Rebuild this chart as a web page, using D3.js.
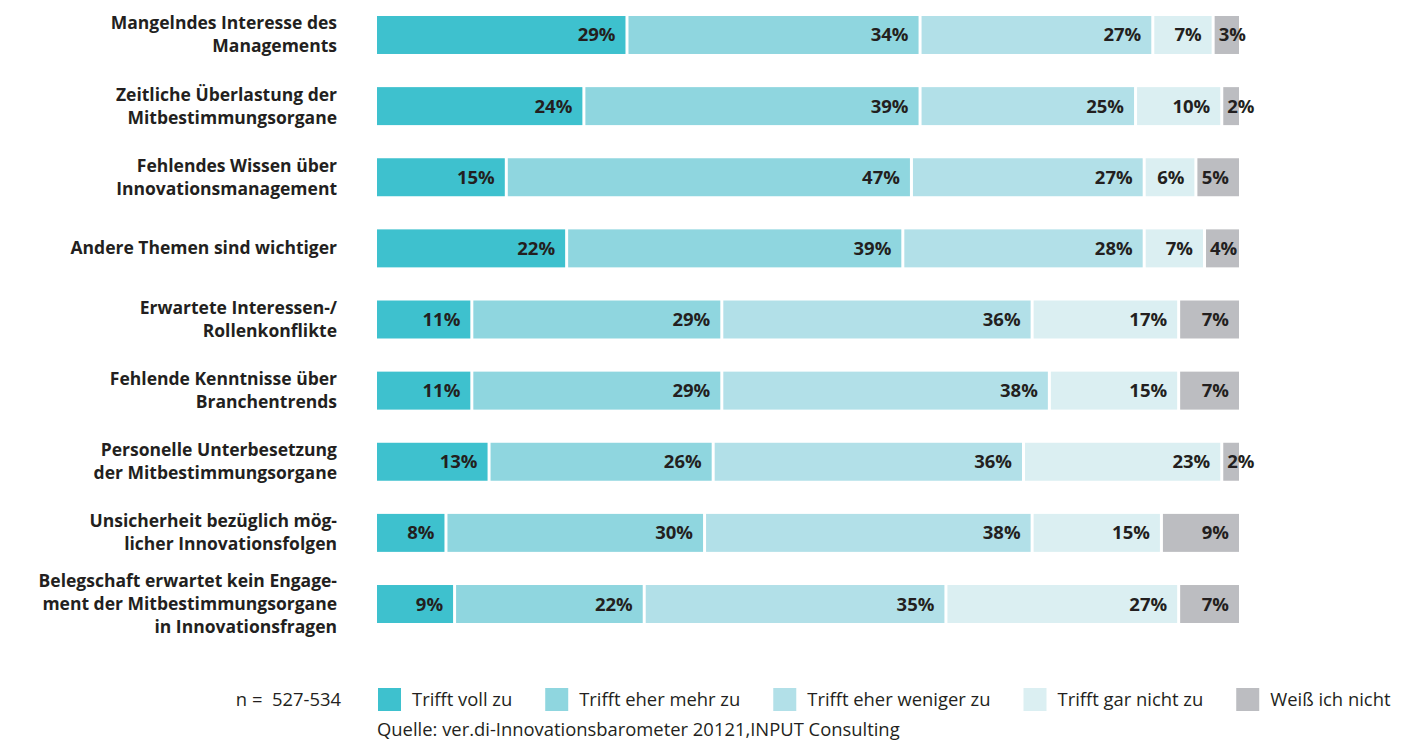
<!DOCTYPE html>
<html>
<head>
<meta charset="utf-8">
<script src="https://cdn.jsdelivr.net/npm/d3@7"></script>
<style>
  html, body { margin: 0; padding: 0; background: #fff; overflow: hidden; }
  svg { display: block; }
  text { font-family: "Open Sans", "Noto Sans", sans-serif; fill: #231f20; }
</style>
</head>
<body>
<svg id="chart" width="1427" height="741"></svg>
<script>
// Category labels (line breaks as printed)
const categories = [
  ["Mangelndes Interesse des", "Managements"],
  ["Zeitliche Überlastung der", "Mitbestimmungsorgane"],
  ["Fehlendes Wissen über", "Innovationsmanagement"],
  ["Andere Themen sind wichtiger"],
  ["Erwartete Interessen-/", "Rollenkonflikte"],
  ["Fehlende Kenntnisse über", "Branchentrends"],
  ["Personelle Unterbesetzung", "der Mitbestimmungsorgane"],
  ["Unsicherheit bezüglich mög-", "licher Innovationsfolgen"],
  ["Belegschaft erwartet kein Engage-", "ment der Mitbestimmungsorgane", "in Innovationsfragen"]
];

const seriesNames = ["Trifft voll zu", "Trifft eher mehr zu", "Trifft eher weniger zu", "Trifft gar nicht zu", "Weiß ich nicht"];
const seriesColors = ["#3ec1ce", "#8fd6df", "#b2e0e8", "#dbeff2", "#bcbdc1"];

// Percentages per series, one value per category
const trifftVollZu        = [29, 24, 15, 22, 11, 11, 13,  8,  9];
const trifftEherMehrZu    = [34, 39, 47, 39, 29, 29, 26, 30, 22];
const trifftEherWenigerZu = [27, 25, 27, 28, 36, 38, 36, 38, 35];
const trifftGarNichtZu    = [ 7, 10,  6,  7, 17, 15, 23, 15, 27];
const weissIchNicht       = [ 3,  2,  5,  4,  7,  7,  2,  9,  7];

const sampleNote = "n =  527-534";
const sourceNote = "Quelle: ver.di-Innovationsbarometer 20121,INPUT Consulting";

const seriesValues = [trifftVollZu, trifftEherMehrZu, trifftEherWenigerZu, trifftGarNichtZu, weissIchNicht];

const svg = d3.select("#chart");

const rows = categories.map((c, i) => {
  const row = { key: "c" + i, label: c };
  seriesValues.forEach((vals, s) => { row["s" + s] = vals[i]; });
  return row;
});
const keys = seriesValues.map((_, s) => "s" + s);
const stacked = d3.stack().keys(keys)(rows);

const x = d3.scaleLinear().domain([0, 100]).range([377, 1239]);
const y = d3.scaleBand()
  .domain(rows.map(r => r.key))
  .range([16, 623])
  .paddingInner(0.466)
  .paddingOuter(0);

const gap = 1.5;
const lastIdx = keys.length - 1;

// Bar segments
const layers = svg.append("g").selectAll("g")
  .data(stacked)
  .join("g")
  .attr("fill", (d, i) => seriesColors[i]);

layers.selectAll("rect")
  .data((d, i) => d.map(p => ({ p, i })))
  .join("rect")
  .attr("x", d => x(d.p[0]) + (d.i > 0 ? gap : 0))
  .attr("y", d => y(d.p.data.key))
  .attr("width", d => x(d.p[1]) - x(d.p[0]) - (d.i > 0 ? gap : 0) - (d.i < lastIdx ? gap : 0))
  .attr("height", y.bandwidth());

// Value labels inside the segments
const valueFont = 18.5;
layers.selectAll("text")
  .data((d, i) => d.map(p => ({ p, i })))
  .join("text")
  .attr("font-size", valueFont)
  .attr("font-weight", 700)
  .attr("y", d => y(d.p.data.key) + y.bandwidth() / 2 + 6.5)
  .text(d => (d.p[1] - d.p[0]) + "%")
  .each(function (d) {
    const t = d3.select(this);
    const w = this.getComputedTextLength();
    const x0 = x(d.p[0]) + (d.i > 0 ? gap : 0);
    const x1 = x(d.p[1]) - (d.i < lastIdx ? gap : 0);
    if (x1 - x0 < w + 14) {
      t.attr("text-anchor", "start").attr("x", x0 + 4);
    } else {
      t.attr("text-anchor", "end").attr("x", x1 - 10);
    }
  });

// Category labels, right aligned left of the bars
const lineH = 23;
const catG = svg.append("g");
rows.forEach(r => {
  const cy = y(r.key) + y.bandwidth() / 2;
  const n = r.label.length;
  const t = catG.append("text")
    .attr("text-anchor", "end")
    .attr("font-size", 17.5)
    .attr("font-weight", 700);
  r.label.forEach((line, j) => {
    t.append("tspan")
      .attr("x", 337)
      .attr("y", cy + 6 + (j - (n - 1) / 2) * lineH)
      .text(line);
  });
});

// Legend
const legendY = 688, sw = 23, legendFont = 18.4;
svg.append("text")
  .attr("x", 341).attr("y", legendY + 18)
  .attr("text-anchor", "end")
  .attr("font-size", legendFont)
  .attr("xml:space", "preserve")
  .text(sampleNote);

let lx = 378;
seriesNames.forEach((name, i) => {
  const g = svg.append("g");
  g.append("rect").attr("x", lx).attr("y", legendY).attr("width", sw).attr("height", sw).attr("fill", seriesColors[i]);
  const t = g.append("text")
    .attr("x", lx + 34).attr("y", legendY + 18)
    .attr("font-size", legendFont)
    .text(name);
  lx = lx + 34 + t.node().getComputedTextLength() + 33;
});

svg.append("text")
  .attr("x", 377).attr("y", 736)
  .attr("font-size", legendFont)
  .text(sourceNote);
</script>
</body>
</html>
